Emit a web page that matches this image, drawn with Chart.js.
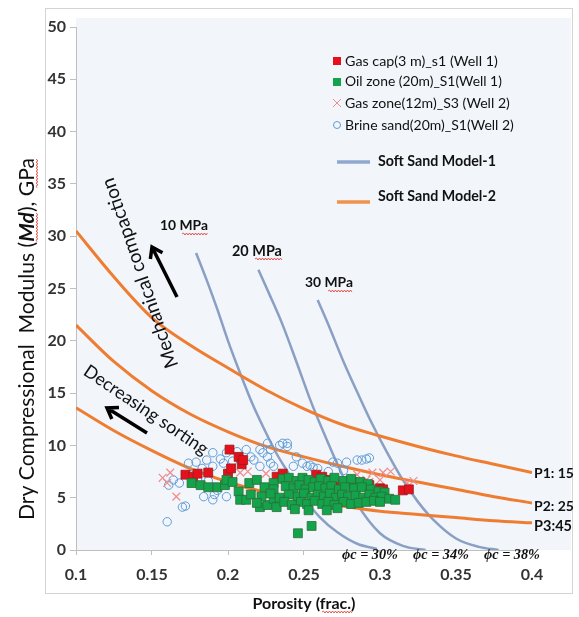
<!DOCTYPE html>
<html>
<head>
<meta charset="utf-8">
<script src="https://cdn.jsdelivr.net/npm/chart.js@4.4.1/dist/chart.umd.min.js"></script>
<style>
html, body { margin: 0; padding: 0; background: #fff; }
#wrap { width: 579px; height: 617px; }
</style>
</head>
<body>
<div id="wrap"><canvas id="chart" width="579" height="617"></canvas></div>
<script>
// axis ticks
const xTickValues = [0.1, 0.15, 0.2, 0.25, 0.3, 0.35, 0.4];
const yTickValues = [0, 5, 10, 15, 20, 25, 30, 35, 40, 45, 50];

// Soft Sand Model-2 (sorting curves)
const orangeX = [0.1, 0.125, 0.15, 0.175, 0.2, 0.225, 0.25, 0.275, 0.3, 0.325, 0.35, 0.375, 0.4];
const p1Curve = [30.5, 26.1, 22.2, 19.6, 17.4, 15.3, 13.5, 12.0, 10.9, 9.9, 9.0, 8.2, 7.4];
const p2Curve = [21.5, 18.0, 15.2, 13.0, 11.3, 9.9, 8.9, 8.0, 7.2, 6.5, 5.8, 5.1, 4.5];
const p3Curve = [13.6, 11.4, 9.5, 7.8, 6.5, 5.5, 4.8, 4.2, 3.7, 3.4, 3.1, 2.8, 2.6];

// Soft Sand Model-1 (pressure curves)
const mpa10 = [[0.179,28.4],[0.186,25.8],[0.193,23.0],[0.200,20.0],[0.208,16.9],[0.216,14.0],[0.223,11.8],[0.232,9.2],[0.240,7.3],[0.249,5.2],[0.260,3.2],[0.272,1.7],[0.285,0.6],[0.298,0.1]];
const mpa20 = [[0.220,26.8],[0.228,24.2],[0.236,21.5],[0.245,18.0],[0.254,14.4],[0.263,11.2],[0.272,8.2],[0.285,4.4],[0.300,1.6],[0.315,0.4],[0.330,0.0]];
const mpa30 = [[0.259,23.9],[0.267,21.2],[0.276,18.0],[0.285,15.1],[0.293,12.6],[0.304,9.5],[0.315,6.7],[0.325,4.6],[0.335,2.9],[0.350,1.1],[0.365,0.3],[0.378,0.0]];

// measured samples [porosity, Md]
const gasCap = [[0.172,7.2],[0.177,7.0],[0.180,7.3],[0.187,7.4],[0.200,7.3],[0.201,9.6],[0.202,7.8],[0.207,8.9],[0.209,8.2],[0.210,8.6],[0.232,7.0],[0.236,7.3],[0.258,7.2],[0.262,7.0],[0.265,6.7],[0.265,6.4],[0.274,6.2],[0.282,6.5],[0.293,6.2],[0.300,5.9],[0.302,5.8],[0.315,5.7],[0.319,5.8]];
const oilZone = [
  [0.176,6.4],[0.182,6.2],[0.187,6.0],[0.193,6.0],[0.198,6.2],[0.199,6.7],[0.203,6.5],[0.207,5.6],[0.208,4.8],[0.212,4.8],[0.214,6.4],[0.219,6.7],[0.221,4.1],[0.226,4.3],[0.230,4.9],[0.230,6.4],[0.232,4.1],
  [0.236,6.8],[0.240,6.9],[0.245,6.6],[0.249,6.9],[0.253,6.7],[0.257,6.5],[0.261,6.8],[0.266,6.6],[0.270,6.9],[0.276,6.6],[0.281,6.8],[0.287,6.5],[0.292,6.3],
  [0.224,6.0],[0.230,5.8],[0.238,6.1],[0.243,5.9],[0.247,6.2],[0.251,5.8],[0.256,6.0],[0.260,6.1],[0.264,5.9],[0.268,6.1],[0.273,5.8],[0.277,6.0],[0.283,5.9],[0.288,6.0],[0.294,5.8],[0.299,5.6],[0.303,5.5],
  [0.215,5.3],[0.222,5.1],[0.228,5.4],[0.234,5.0],[0.240,5.3],[0.246,5.1],[0.250,5.4],[0.255,5.0],[0.259,5.3],[0.263,5.1],[0.267,5.4],[0.271,5.0],[0.275,5.3],[0.279,5.1],[0.284,5.2],[0.289,5.0],[0.293,5.3],[0.297,5.0],[0.301,5.1],[0.306,4.9],[0.310,4.8],
  [0.219,4.5],[0.237,4.6],[0.242,4.3],[0.248,4.6],[0.252,4.4],[0.257,4.7],[0.262,4.4],[0.266,4.6],[0.270,4.3],[0.276,4.6],[0.281,4.4],[0.286,4.5],[0.291,4.6],[0.296,4.7],[0.300,4.6],
  [0.244,3.9],[0.253,3.8],[0.265,3.8],[0.272,4.0],
  [0.246,1.6],[0.255,2.3]
];
const gasZone = [[0.157,6.9],[0.162,7.4],[0.166,5.1],[0.160,6.4],[0.208,7.4],[0.213,7.5],[0.225,7.3],[0.285,7.2],[0.291,6.7],[0.295,7.4],[0.302,7.4],[0.307,7.5],[0.293,6.5],[0.300,6.7],[0.318,6.4],[0.322,6.6]];
const brineSand = [[0.160,2.7],[0.161,6.2],[0.164,6.7],[0.168,6.4],[0.170,4.1],[0.172,4.2],[0.174,8.3],[0.179,8.4],[0.183,7.8],[0.184,5.1],[0.186,8.6],[0.190,9.3],[0.190,8.0],[0.190,4.8],[0.191,5.3],[0.193,5.7],[0.195,8.7],[0.197,8.3],[0.199,9.3],[0.199,5.1],[0.203,8.5],[0.206,9.4],[0.210,8.6],[0.212,9.6],[0.215,8.9],[0.217,8.6],[0.221,9.6],[0.221,8.0],[0.223,9.3],[0.226,8.9],[0.226,10.2],[0.228,8.3],[0.228,9.6],[0.230,8.0],[0.234,10.0],[0.236,10.2],[0.239,9.9],[0.239,10.2],[0.243,8.0],[0.245,8.9],[0.249,8.3],[0.252,8.0],[0.254,8.1],[0.256,7.9],[0.259,7.8],[0.266,7.5],[0.269,8.4],[0.272,8.3],[0.276,7.6],[0.278,8.4],[0.285,8.6],[0.288,8.6],[0.291,8.7],[0.293,8.8],[0.180,6.8],[0.175,7.2],[0.187,6.6]];

const FONT = 'Lato, "Open Sans", sans-serif';
const SERIF = '"Liberation Serif", "DejaVu Serif", serif';
const ORANGE = '#ee7d31';
const BLUE = '#8a9fc4';

function pts(arr) { return arr.map(p => ({ x: p[0], y: p[1] })); }
function zip(xs, ys) { return xs.map((x, i) => ({ x: x, y: ys[i] })); }

function fitSize(ctx, text, style, family, target) {
  ctx.font = style + ' 20px ' + family;
  return 20 * target / ctx.measureText(text).width;
}

function squiggle(ctx, x0, x1, y) {
  ctx.save();
  ctx.strokeStyle = '#e0302a';
  ctx.lineWidth = 0.8;
  ctx.beginPath();
  let up = true;
  ctx.moveTo(x0, y);
  for (let x = x0 + 1.5; x <= x1; x += 1.5) {
    ctx.lineTo(x, up ? y - 1 : y + 1);
    up = !up;
  }
  ctx.stroke();
  ctx.restore();
}

function arrow(ctx, x1, y1, x2, y2) {
  const a = Math.atan2(y2 - y1, x2 - x1);
  ctx.save();
  ctx.strokeStyle = '#000';
  ctx.lineWidth = 3.5;
  ctx.beginPath();
  ctx.moveTo(x1, y1);
  ctx.lineTo(x2, y2);
  ctx.moveTo(x2 - 12 * Math.cos(a - 0.6), y2 - 12 * Math.sin(a - 0.6));
  ctx.lineTo(x2, y2);
  ctx.lineTo(x2 - 12 * Math.cos(a + 0.6), y2 - 12 * Math.sin(a + 0.6));
  ctx.stroke();
  ctx.restore();
}

function label(ctx, text, x, y, width, style, family, align) {
  const size = fitSize(ctx, text, style, family, width);
  ctx.font = style + ' ' + size + 'px ' + family;
  ctx.textAlign = align || 'left';
  ctx.textBaseline = 'middle';
  ctx.fillText(text, x, y);
}

function rotLabel(ctx, text, cx, cy, deg, width, style) {
  ctx.save();
  ctx.translate(cx, cy);
  ctx.rotate(deg * Math.PI / 180);
  label(ctx, text, 0, 0, width, style, FONT, 'center');
  ctx.restore();
}

const annot = {
  id: 'annot',
  beforeDraw(chart) {
    const ctx = chart.ctx, a = chart.chartArea;
    ctx.save();
    ctx.fillStyle = '#f2f6fb';
    ctx.fillRect(a.left, 18, 571 - a.left, a.bottom - 18);
    ctx.strokeStyle = '#d4d4d4';
    ctx.lineWidth = 1;
    ctx.strokeRect(45.5, 8.5, 527, 585);
    ctx.restore();
  },
  afterDraw(chart) {
    const ctx = chart.ctx;
    ctx.save();
    ctx.fillStyle = '#111';

    // legend
    ctx.fillStyle = '#e5101c';
    ctx.fillRect(333, 57, 8, 8);
    ctx.fillStyle = '#12a34c';
    ctx.fillRect(333, 78, 8, 8);
    ctx.strokeStyle = '#f08c8c';
    ctx.lineWidth = 1;
    ctx.beginPath();
    ctx.moveTo(333, 99); ctx.lineTo(341, 107);
    ctx.moveTo(341, 99); ctx.lineTo(333, 107);
    ctx.stroke();
    ctx.strokeStyle = '#5f9bd6';
    ctx.beginPath();
    ctx.arc(337, 125, 3.5, 0, Math.PI * 2);
    ctx.stroke();
    ctx.lineWidth = 3.5;
    ctx.strokeStyle = '#8ea9cf';
    ctx.beginPath(); ctx.moveTo(337, 162); ctx.lineTo(370, 162); ctx.stroke();
    ctx.strokeStyle = '#f0924a';
    ctx.beginPath(); ctx.moveTo(337, 202); ctx.lineTo(370, 202); ctx.stroke();

    ctx.fillStyle = '#111';
    label(ctx, 'Gas cap(3 m)_s1 (Well 1)', 345, 61, 153, '', FONT);
    label(ctx, 'Oil zone (20m)_S1(Well 1)', 345, 82, 157, '', FONT);
    label(ctx, 'Gas zone(12m)_S3 (Well 2)', 345, 103, 165, '', FONT);
    label(ctx, 'Brine sand(20m)_S1(Well 2)', 345, 125, 169, '', FONT);
    label(ctx, 'Soft Sand Model-1', 378, 161, 118, 'bold', FONT);
    label(ctx, 'Soft Sand Model-2', 378, 196, 118, 'bold', FONT);

    // pressure labels
    label(ctx, '10 MPa', 160, 226, 48, 'bold', FONT);
    squiggle(ctx, 182, 208, 234);
    label(ctx, '20 MPa', 232, 251, 50, 'bold', FONT);
    squiggle(ctx, 255, 282, 259);
    label(ctx, '30 MPa', 305, 283, 48, 'bold', FONT);
    squiggle(ctx, 328, 353, 291);

    // sorting labels
    label(ctx, 'P1: 15', 534, 473, 40, 'bold', FONT);
    label(ctx, 'P2: 25', 534, 506, 40, 'bold', FONT);
    label(ctx, 'P3:45', 534, 526, 38, 'bold', FONT);

    // critical porosity labels
    label(ctx, '\u03d5c = 30%', 370, 555, 56, 'italic bold', SERIF, 'center');
    label(ctx, '\u03d5c = 34%', 441, 555, 56, 'italic bold', SERIF, 'center');
    label(ctx, '\u03d5c = 38%', 512, 555, 56, 'italic bold', SERIF, 'center');

    // trend annotations
    rotLabel(ctx, 'Mechanical compaction', 140, 273, -109, 200, '');
    rotLabel(ctx, 'Decreasing sorting', 146, 410, 34, 146, '');
    arrow(ctx, 177, 297, 152, 247);
    arrow(ctx, 147, 433, 107, 408);

    // x title
    ctx.fillStyle = '#111';
    label(ctx, 'Porosity (frac.)', 304, 604, 103, 'bold', FONT, 'center');
    squiggle(ctx, 322, 352, 612);

    // y title with bold italic Md
    const parts = [['Dry Compressional  Modulus (', ''], ['Md', 'bold italic'], ['), GPa', '']];
    const size = 17;
    let total = 0;
    parts.forEach(p => { ctx.font = p[1] + ' ' + size + 'px ' + FONT; p.push(ctx.measureText(p[0]).width); total += p[2]; });
    const k = 362 / total;
    ctx.save();
    ctx.translate(27, 339);
    ctx.rotate(-Math.PI / 2);
    ctx.textAlign = 'left';
    ctx.textBaseline = 'middle';
    let x = -total * k / 2;
    parts.forEach((p, i) => {
      ctx.font = p[1] + ' ' + (size * k) + 'px ' + FONT;
      ctx.fillText(p[0], x, 0);
      if (i === 1) squiggle(ctx, x, x + p[2] * k, 10);
      if (i === 2) squiggle(ctx, x + p[2] * k * 0.45, x + p[2] * k, 10);
      x += p[2] * k;
    });
    ctx.restore();

    ctx.restore();
  }
};

const lineBase = { showLine: true, pointRadius: 0, cubicInterpolationMode: 'monotone', fill: false, order: 10 };

new Chart(document.getElementById('chart'), {
  type: 'scatter',
  data: {
    datasets: [
      { label: 'Oil zone (20m)_S1(Well 1)', data: pts(oilZone), pointStyle: 'rect', pointRadius: 6.3, backgroundColor: '#12a34c', borderColor: '#2f6d35', borderWidth: 0.8, order: 1 },
      { label: 'Gas cap(3 m)_s1 (Well 1)', data: pts(gasCap), pointStyle: 'rect', pointRadius: 6.3, backgroundColor: '#e5101c', borderColor: '#9a1c1c', borderWidth: 0.8, order: 2 },
      { label: 'Gas zone(12m)_S3 (Well 2)', data: pts(gasZone), pointStyle: 'crossRot', pointRadius: 5.5, borderColor: '#f08c8c', borderWidth: 1.2, order: 3 },
      { label: 'Brine sand(20m)_S1(Well 2)', data: pts(brineSand), pointStyle: 'circle', pointRadius: 4.2, backgroundColor: 'rgba(0,0,0,0)', borderColor: '#5f9bd6', borderWidth: 1, order: 4 },
      Object.assign({ label: 'P1: 15', data: zip(orangeX, p1Curve), borderColor: ORANGE, borderWidth: 3 }, lineBase),
      Object.assign({ label: 'P2: 25', data: zip(orangeX, p2Curve), borderColor: ORANGE, borderWidth: 3 }, lineBase),
      Object.assign({ label: 'P3:45', data: zip(orangeX, p3Curve), borderColor: ORANGE, borderWidth: 3 }, lineBase),
      Object.assign({ label: '10 MPa', data: pts(mpa10), borderColor: BLUE, borderWidth: 2.5 }, lineBase),
      Object.assign({ label: '20 MPa', data: pts(mpa20), borderColor: BLUE, borderWidth: 2.5 }, lineBase),
      Object.assign({ label: '30 MPa', data: pts(mpa30), borderColor: BLUE, borderWidth: 2.5 }, lineBase)
    ]
  },
  options: {
    responsive: false,
    animation: false,
    devicePixelRatio: 1,
    events: [],
    layout: { padding: { top: 27, right: 47, left: 0, bottom: 0 } },
    plugins: { legend: { display: false }, tooltip: { enabled: false } },
    scales: {
      x: {
        type: 'linear', min: 0.1, max: 0.4,
        afterBuildTicks: s => { s.ticks = xTickValues.map(v => ({ value: v })); },
        afterFit: s => { s.height = 67; },
        grid: { drawOnChartArea: false, drawTicks: true, tickLength: 5, color: '#bfbfbf' },
        border: { color: '#bfbfbf' },
        ticks: { padding: 10, color: '#333', font: { family: FONT, size: 16, weight: 'bold' }, callback: v => String(Number(v.toFixed(2))) }
      },
      y: {
        type: 'linear', min: 0, max: 50,
        afterBuildTicks: s => { s.ticks = yTickValues.map(v => ({ value: v })); },
        afterFit: s => { s.width = 76; },
        grid: { drawOnChartArea: false, drawTicks: true, tickLength: 6, color: '#bfbfbf' },
        border: { color: '#bfbfbf' },
        ticks: { padding: 4, color: '#333', font: { family: FONT, size: 16, weight: 'bold' } }
      }
    }
  },
  plugins: [annot]
});
</script>
</body>
</html>
